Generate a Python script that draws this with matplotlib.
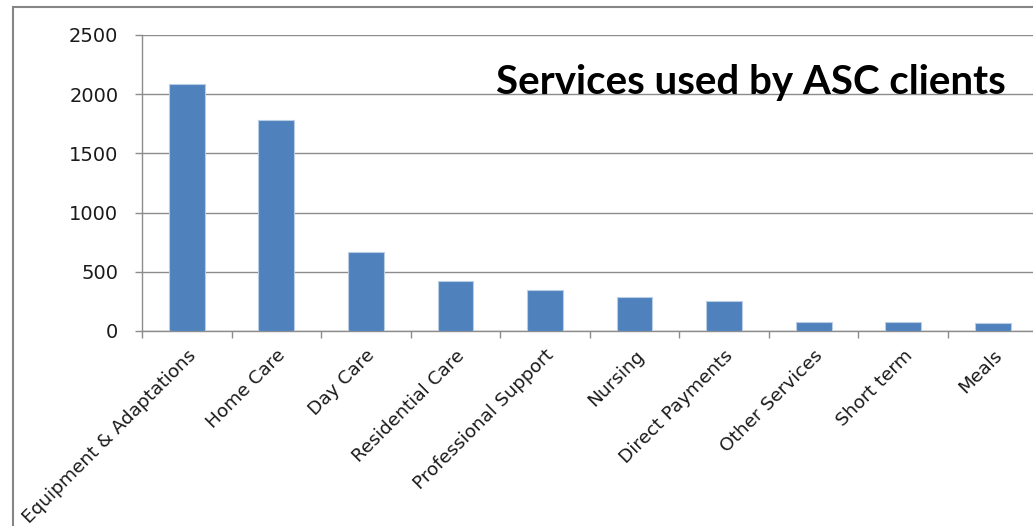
import matplotlib
matplotlib.use("Agg")
import matplotlib.pyplot as plt
from matplotlib.patches import Rectangle
import numpy as np

# Services used by ASC clients
services = ['Equipment & Adaptations', 'Home Care', 'Day Care', 'Residential Care',
            'Professional Support', 'Nursing', 'Direct Payments', 'Other Services',
            'Short term', 'Meals']
clients = [2090, 1780, 670, 420, 350, 290, 250, 75, 75, 65]
y_ticks = [0, 500, 1000, 1500, 2000, 2500]

W, H = 1033, 526
fig = plt.figure(figsize=(W / 100, H / 100), dpi=100)

# chart area border (Excel style)
fig.patches.append(Rectangle((13 / W, -0.05), 1.1, 1 - 7 / H + 0.05,
                             transform=fig.transFigure, fill=False,
                             edgecolor='#868686', linewidth=1.5))

ax = fig.add_axes([142 / W, 195 / H, 895.5 / W, 296 / H])
x = np.arange(len(services))
ax.bar(x, clients, width=0.4, color='#4f81bd', edgecolor='#b9cde5', linewidth=0.8, zorder=3)

ax.set_xlim(-0.5, len(services) - 0.5)
ax.set_ylim(0, 2500)
ax.set_yticks(y_ticks)
ax.set_yticklabels([str(v) for v in y_ticks], fontsize=14, color='#1a1a1a')
ax.yaxis.grid(True, color='#8c8c8c', linewidth=1.0, zorder=0)
ax.tick_params(axis='y', length=5, width=1, color='#8c8c8c', pad=12)

ax.set_xticks(x)
ax.set_xticklabels(services, rotation=45, ha='right', rotation_mode='anchor',
                   fontsize=13.3, color='#1a1a1a')
ax.tick_params(axis='x', length=0, pad=11)
ax.set_xticks(np.arange(len(services) + 1) - 0.5, minor=True)
ax.tick_params(axis='x', which='minor', length=5, width=1, color='#8c8c8c')

for side in ['top', 'right']:
    ax.spines[side].set_visible(False)
for side in ['left', 'bottom']:
    ax.spines[side].set_color('#8c8c8c')
    ax.spines[side].set_linewidth(1.0)

fig.text(1006 / W, 1 - 94 / H, 'Services used by ASC clients', ha='right', va='baseline',
         fontsize=29, fontweight='bold', family='Lato', color='black')

fig.savefig('out.png', dpi=100)
